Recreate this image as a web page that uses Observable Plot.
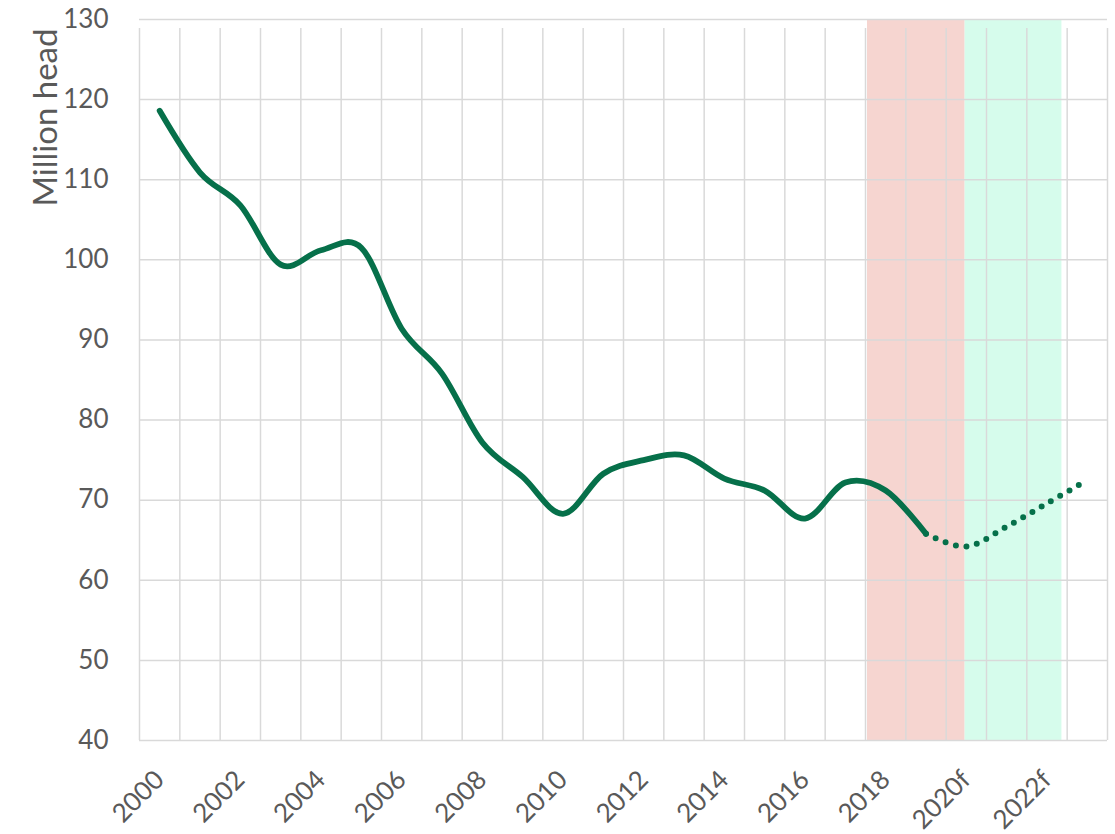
<!DOCTYPE html>
<html><head><meta charset="utf-8">
<script src="https://cdn.jsdelivr.net/npm/d3@7"></script>
<script src="https://cdn.jsdelivr.net/npm/@observablehq/plot@0.6"></script>
<style>body{margin:0;background:#fff}</style>
</head><body><div id="chart"></div>
<script>
const years = ["2000","2001","2002","2003","2004","2005","2006","2007","2008","2009","2010","2011","2012","2013","2014","2015","2016","2017","2018","2019","2020f","2021f","2022f","2023f"];
const actual = [118.6,110.9,106.8,99.4,101.2,101.5,91.4,85.8,77.2,72.9,68.3,73.3,75.0,75.6,72.7,71.2,67.7,72.2,71.2,65.8];
const forecastStartIndex = 19;
const forecast = [65.8,64.2,66.7,69.6,72.5];
const yTicks = [40,50,60,70,80,90,100,110,120,130];
const shadeStart = [17.55, 19.97];
const shadeEnd = [19.97, 22.37];

const actualData = actual.map((v,i)=>({i, v}));
const forecastData = forecast.map((v,k)=>({i: forecastStartIndex+k, v}));
const boundaries = d3.range(years.length + 1).map(k => k - 0.5);
const labelData = years.map((y,i)=>({i,y})).filter(d=>d.i%2===0);
const shadeData = shadeStart.map((s,k)=>({x1:s, x2:shadeEnd[k], k}));

const font = "Lato, 'Open Sans', sans-serif";
const grey = "#595959";
const chart = Plot.plot({
  width:1115, height:834,
  marginLeft:139, marginRight:8, marginTop:19, marginBottom:94,
  x:{domain:[-0.5, years.length-0.5], axis:null},
  y:{domain:[40,130], axis:null},
  style:{fontFamily:font, background:"#fff"},
  marks:[
    Plot.rect(shadeData, {x1:"x1", x2:"x2", y1:40, y2:130, fill: d => d.k===0 ? "#f6d5d0" : "#d6fcec"}),
    Plot.ruleY(yTicks, {stroke:"#d9d9d9", strokeWidth:1.5}),
    Plot.ruleX(boundaries, {y1:40, y2:130, insetBottom:-9, stroke:"#d9d9d9", strokeWidth:1.5}),
    Plot.line(actualData, {x:"i", y:"v", curve:"cardinal", stroke:"#06704a", strokeWidth:5.8, strokeLinecap:"round", strokeLinejoin:"round"}),
    Plot.line(forecastData, {x:"i", y:"v", curve:"cardinal", stroke:"#06704a", strokeWidth:6, strokeLinecap:"round", strokeDasharray:"0 10.7"}),
    Plot.text(yTicks, {x:-0.5, y:d=>d, text:d=>String(d), textAnchor:"end", dx:-31, fontSize:26, fill:grey}),
    Plot.text(labelData, {x:"i", y:40, text:"y", rotate:-45, textAnchor:"end", dx:0, dy:35, fontSize:26, fill:grey}),
    Plot.text(["Million head"], {frameAnchor:"top-left", text:d=>d, rotate:-90, textAnchor:"end", dx:-106, dy:9, fontSize:33, fill:grey})
  ]
});
document.getElementById("chart").appendChild(chart);
</script>
</body></html>
